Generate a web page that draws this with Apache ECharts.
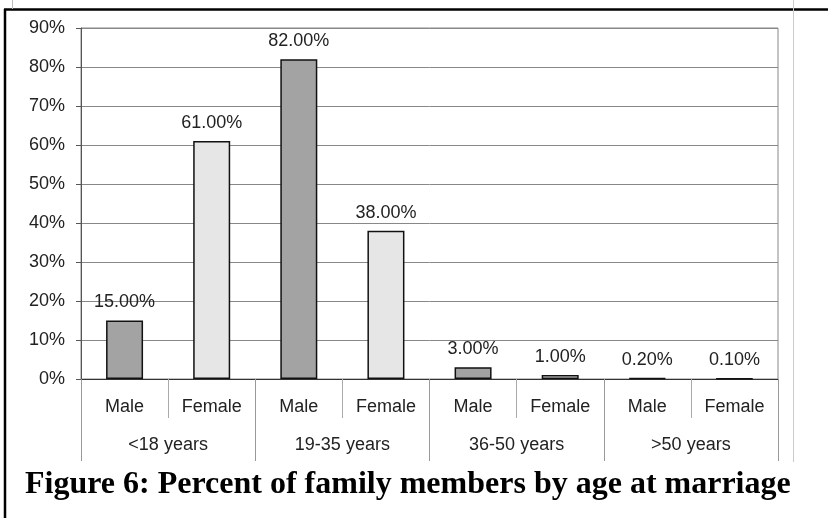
<!DOCTYPE html>
<html>
<head>
<meta charset="utf-8">
<script src="https://cdn.jsdelivr.net/npm/echarts@6/dist/echarts.min.js"></script>
<style>
  html, body { margin: 0; padding: 0; background: #fff; }
  #chart { width: 828px; height: 518px; }
</style>
</head>
<body>
<div id="chart"></div>
<script>
// 数据
var sexes = ['Male', 'Female', 'Male', 'Female', 'Male', 'Female', 'Male', 'Female'];
var ageGroups = ['<18 years', '19-35 years', '36-50 years', '>50 years'];
var percents = [15, 61, 82, 38, 3, 1, 0.2, 0.1];
var yTicks = [0, 10, 20, 30, 40, 50, 60, 70, 80, 90];

var maleColor = '#a3a3a3';
var femaleColor = '#e6e6e6';
var textFont = 'Arial, Liberation Sans';

var myChart = echarts.init(document.getElementById('chart'));

var option = {
    backgroundColor: '#fff',
    animation: false,
    grid: {
        left: 81, right: 50, top: 28, bottom: 139,
        show: true,
        borderColor: '#888',
        borderWidth: 1
    },
    xAxis: [
        {
            type: 'category',
            data: sexes,
            axisLine: { lineStyle: { color: '#333', width: 1 } },
            axisTick: { show: true, interval: 0, length: 39, lineStyle: { color: '#aaa' } },
            axisLabel: { interval: 0, margin: 19, fontFamily: textFont, fontSize: 18, color: '#222' }
        },
        {
            type: 'category',
            position: 'bottom',
            data: ageGroups,
            axisLine: { show: false },
            axisTick: { show: true, interval: 0, length: 82, lineStyle: { color: '#999' } },
            axisLabel: { interval: 0, margin: 57, fontFamily: textFont, fontSize: 18, color: '#222' }
        }
    ],
    yAxis: {
        type: 'value',
        min: yTicks[0],
        max: yTicks[yTicks.length - 1],
        interval: 10,
        axisLine: { show: true, lineStyle: { color: '#555' } },
        axisTick: { show: true, length: 5, lineStyle: { color: '#555' } },
        axisLabel: {
            margin: 16,
            formatter: '{value}%',
            fontFamily: textFont,
            fontSize: 18,
            color: '#222'
        },
        splitLine: { lineStyle: { color: '#888', width: 1 } }
    },
    series: [
        {
            type: 'bar',
            xAxisIndex: 0,
            barWidth: 37,
            data: percents.map(function (v, i) {
                return {
                    value: v,
                    itemStyle: { color: sexes[i] === 'Male' ? maleColor : femaleColor }
                };
            }),
            itemStyle: { borderColor: '#111', borderWidth: 1.5 },
            label: {
                show: true,
                position: 'top',
                distance: 9,
                formatter: function (p) { return p.value.toFixed(2) + '%'; },
                fontFamily: textFont,
                fontSize: 18,
                color: '#222'
            }
        }
    ],
    graphic: [
        // 外框
        { type: 'line', shape: { x1: 4, y1: 9.5, x2: 828, y2: 9.5 }, style: { stroke: '#000', lineWidth: 2.5 } },
        { type: 'line', shape: { x1: 5, y1: 9, x2: 5, y2: 518 }, style: { stroke: '#000', lineWidth: 2.5 } },
        { type: 'line', shape: { x1: 12.5, y1: 0, x2: 12.5, y2: 9 }, style: { stroke: '#bbb', lineWidth: 1 } },
        { type: 'line', shape: { x1: 793.5, y1: 0, x2: 793.5, y2: 462 }, style: { stroke: '#ccc', lineWidth: 1 } },
        {
            type: 'text',
            left: 25,
            top: 469,
            style: {
                text: 'Figure 6: Percent of family members by age at marriage',
                font: 'bold 32px "Liberation Serif", "Times New Roman", serif',
                fill: '#000'
            }
        }
    ]
};

if (option && typeof option === 'object') {
    myChart.setOption(option);
}
</script>
</body>
</html>
